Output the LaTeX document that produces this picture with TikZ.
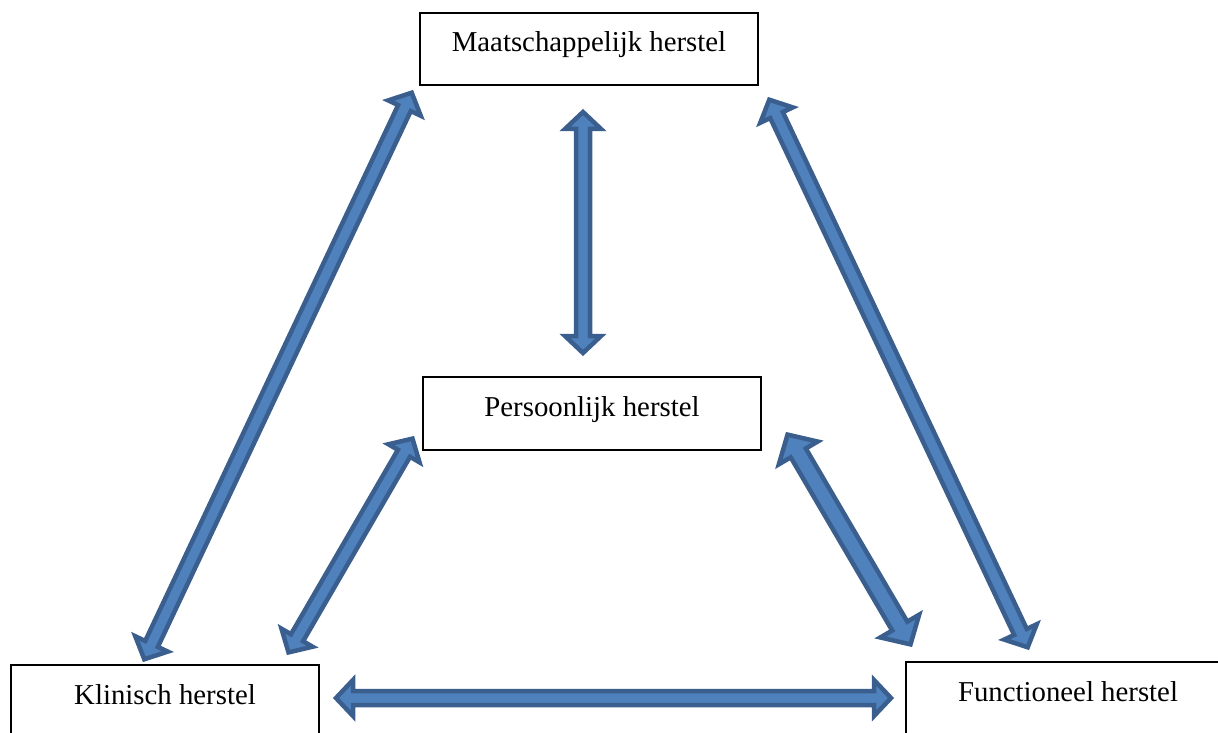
\documentclass[tikz,border=0pt]{standalone}
\usepackage{fontspec}
\setmainfont{Liberation Serif}
\usepackage{tikz}
\usetikzlibrary{calc}
\definecolor{arrowfill}{HTML}{4F81BD}
\definecolor{arrowedge}{HTML}{3A5F8E}
% double-headed block arrow between two named points, #1 = size factor
\newcommand{\dblarrow}[3][1]{%
  \path ($(#2)!3pt!(#3)$) coordinate (ta) ($(#3)!3pt!(#2)$) coordinate (tb);
  \path ($(ta)!#1*17pt!(tb)$) coordinate (ha) ($(tb)!#1*17pt!(ta)$) coordinate (hb);
  \draw[blockarrow] (ta) -- ($(ha)!#1*18pt!90:(tb)$) -- ($(ha)!#1*7pt!90:(tb)$)
    -- ($(hb)!#1*7pt!-90:(ta)$) -- ($(hb)!#1*18pt!-90:(ta)$) -- (tb)
    -- ($(hb)!#1*18pt!90:(ta)$) -- ($(hb)!#1*7pt!90:(ta)$)
    -- ($(ha)!#1*7pt!-90:(tb)$) -- ($(ha)!#1*18pt!-90:(tb)$) -- cycle;
}

\begin{document}
\begin{tikzpicture}[
  x=1pt, y=-1pt,
  font=\fontsize{28.8}{34}\selectfont,
  box/.style={rectangle, draw=black, line width=2.2pt, fill=white, align=center,
              text height=19pt, text depth=13pt, inner sep=0pt},
  blockarrow/.style={fill=arrowfill, draw=arrowedge, line width=4.5pt, line join=miter},
]
\useasboundingbox (0,0) rectangle (1218,733);
% --- boxes ---
\node[box, minimum width=338pt, minimum height=72pt] (MA) at (589,49) {Maatschappelijk herstel};
\node[box, minimum width=338pt, minimum height=73pt] (PE) at (592,413.5) {Persoonlijk herstel};
\node[box, minimum width=308pt, minimum height=72pt] (KL) at (165,701) {Klinisch herstel};
\node[box, minimum width=324pt, minimum height=72pt] (FU) at (1068,698) {Functioneel herstel};
% --- arrow ends ---
\coordinate (kl-ma) at (143,662);  \coordinate (ma-kl) at (413,90);
\coordinate (ma-pe) at (583,109);  \coordinate (pe-ma) at (583,356);
\coordinate (ma-fu) at (768,97);   \coordinate (fu-ma) at (1029,650);
\coordinate (kl-pe) at (287,655);  \coordinate (pe-kl) at (414,436);
\coordinate (pe-fu) at (786,432);  \coordinate (fu-pe) at (912,647);
\coordinate (kl-fu) at (333,698);  \coordinate (fu-kl) at (894,698);
% --- arrows ---
\dblarrow{kl-ma}{ma-kl}
\dblarrow{ma-pe}{pe-ma}
\dblarrow{ma-fu}{fu-ma}
\dblarrow{kl-pe}{pe-kl}
\dblarrow[1.25]{pe-fu}{fu-pe}
\dblarrow{kl-fu}{fu-kl}
\end{tikzpicture}
\end{document}
